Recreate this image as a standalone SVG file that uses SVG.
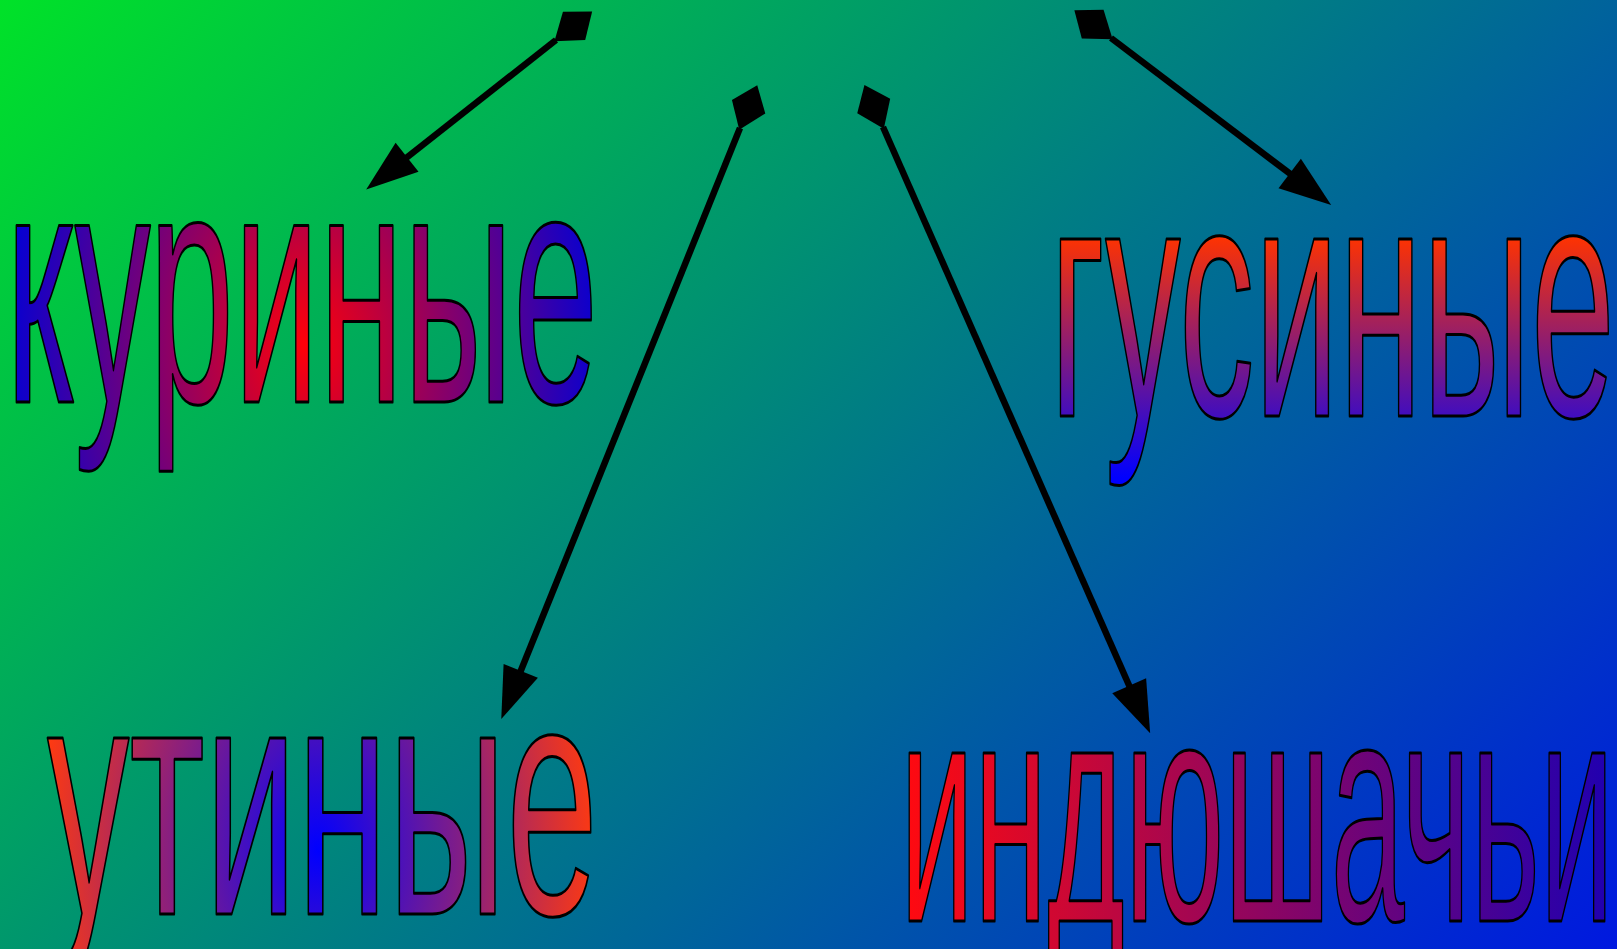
<svg xmlns="http://www.w3.org/2000/svg" width="1617" height="949" viewBox="0 0 1617 949">
<defs>
<linearGradient id="bg" gradientUnits="userSpaceOnUse" x1="0" y1="0" x2="1283" y2="1283">
<stop offset="0" stop-color="#00e228"/>
<stop offset="1" stop-color="#0018e0"/>
</linearGradient>
<radialGradient id="gk" gradientUnits="userSpaceOnUse" cx="0" cy="0" r="1" gradientTransform="translate(305,345) scale(295,430)">
<stop offset="0" stop-color="#ff0008"/>
<stop offset="1" stop-color="#0800d0"/>
</radialGradient>
<linearGradient id="gg" gradientUnits="userSpaceOnUse" x1="0" y1="236" x2="0" y2="478">
<stop offset="0" stop-color="#ff3300"/>
<stop offset="1" stop-color="#0000ff"/>
</linearGradient>
<radialGradient id="gu" gradientUnits="userSpaceOnUse" cx="0" cy="0" r="1" gradientTransform="translate(318,850) scale(280,420)">
<stop offset="0" stop-color="#0000ff"/>
<stop offset="1" stop-color="#ff3a10"/>
</radialGradient>
<linearGradient id="gi" gradientUnits="userSpaceOnUse" x1="905" y1="0" x2="1610" y2="0">
<stop offset="0" stop-color="#ff0a10"/>
<stop offset="1" stop-color="#2000b0"/>
</linearGradient>
<marker id="dia" markerUnits="userSpaceOnUse" orient="auto" refX="0" refY="0" markerWidth="120" markerHeight="60" viewBox="-60 -30 120 60" overflow="visible">
<path d="M2,0 L-23,-18 L-46,0 L-23,18 Z" fill="#000"/>
</marker>
<marker id="tri" markerUnits="userSpaceOnUse" orient="auto" refX="0" refY="0" markerWidth="120" markerHeight="60" viewBox="-60 -30 120 60" overflow="visible">
<path d="M-2,-18.5 L50,0 L-2,18.5 Z" fill="#000"/>
</marker>
</defs>
<style>
.w { font-family: "Liberation Sans", Arial, sans-serif; stroke: #000; stroke-width: 3; stroke-linejoin: round; }
.c { fill: none; stroke: #000; stroke-width: 6.5; marker-start: url(#dia); marker-end: url(#tri); }
</style>
<rect x="0" y="0" width="1617" height="949" fill="url(#bg)"/>
<g id="connectors">
<path class="c" d="M556,40 L405.5,158.5"/>
<path class="c" d="M740,128 L520,672.7"/>
<path class="c" d="M883,127 L1130,687.5"/>
<path class="c" d="M1111,38 L1291.3,174.7"/>
</g>
<g id="node-kurinye">
<text class="w" x="6" y="402" font-size="334" textLength="592" lengthAdjust="spacingAndGlyphs" fill="url(#gk)">куриные</text>
</g>
<g id="node-gusinye">
<text class="w" x="1050" y="416" font-size="335" textLength="565" lengthAdjust="spacingAndGlyphs" fill="url(#gg)">гусиные</text>
</g>
<g id="node-utinye">
<text class="w" x="47" y="914" font-size="333" textLength="551" lengthAdjust="spacingAndGlyphs" fill="url(#gu)">утиные</text>
</g>
<g id="node-indyushachi">
<text class="w" x="900" y="921" font-size="318" textLength="714" lengthAdjust="spacingAndGlyphs" fill="url(#gi)">индюшачьи</text>
</g>
</svg>
